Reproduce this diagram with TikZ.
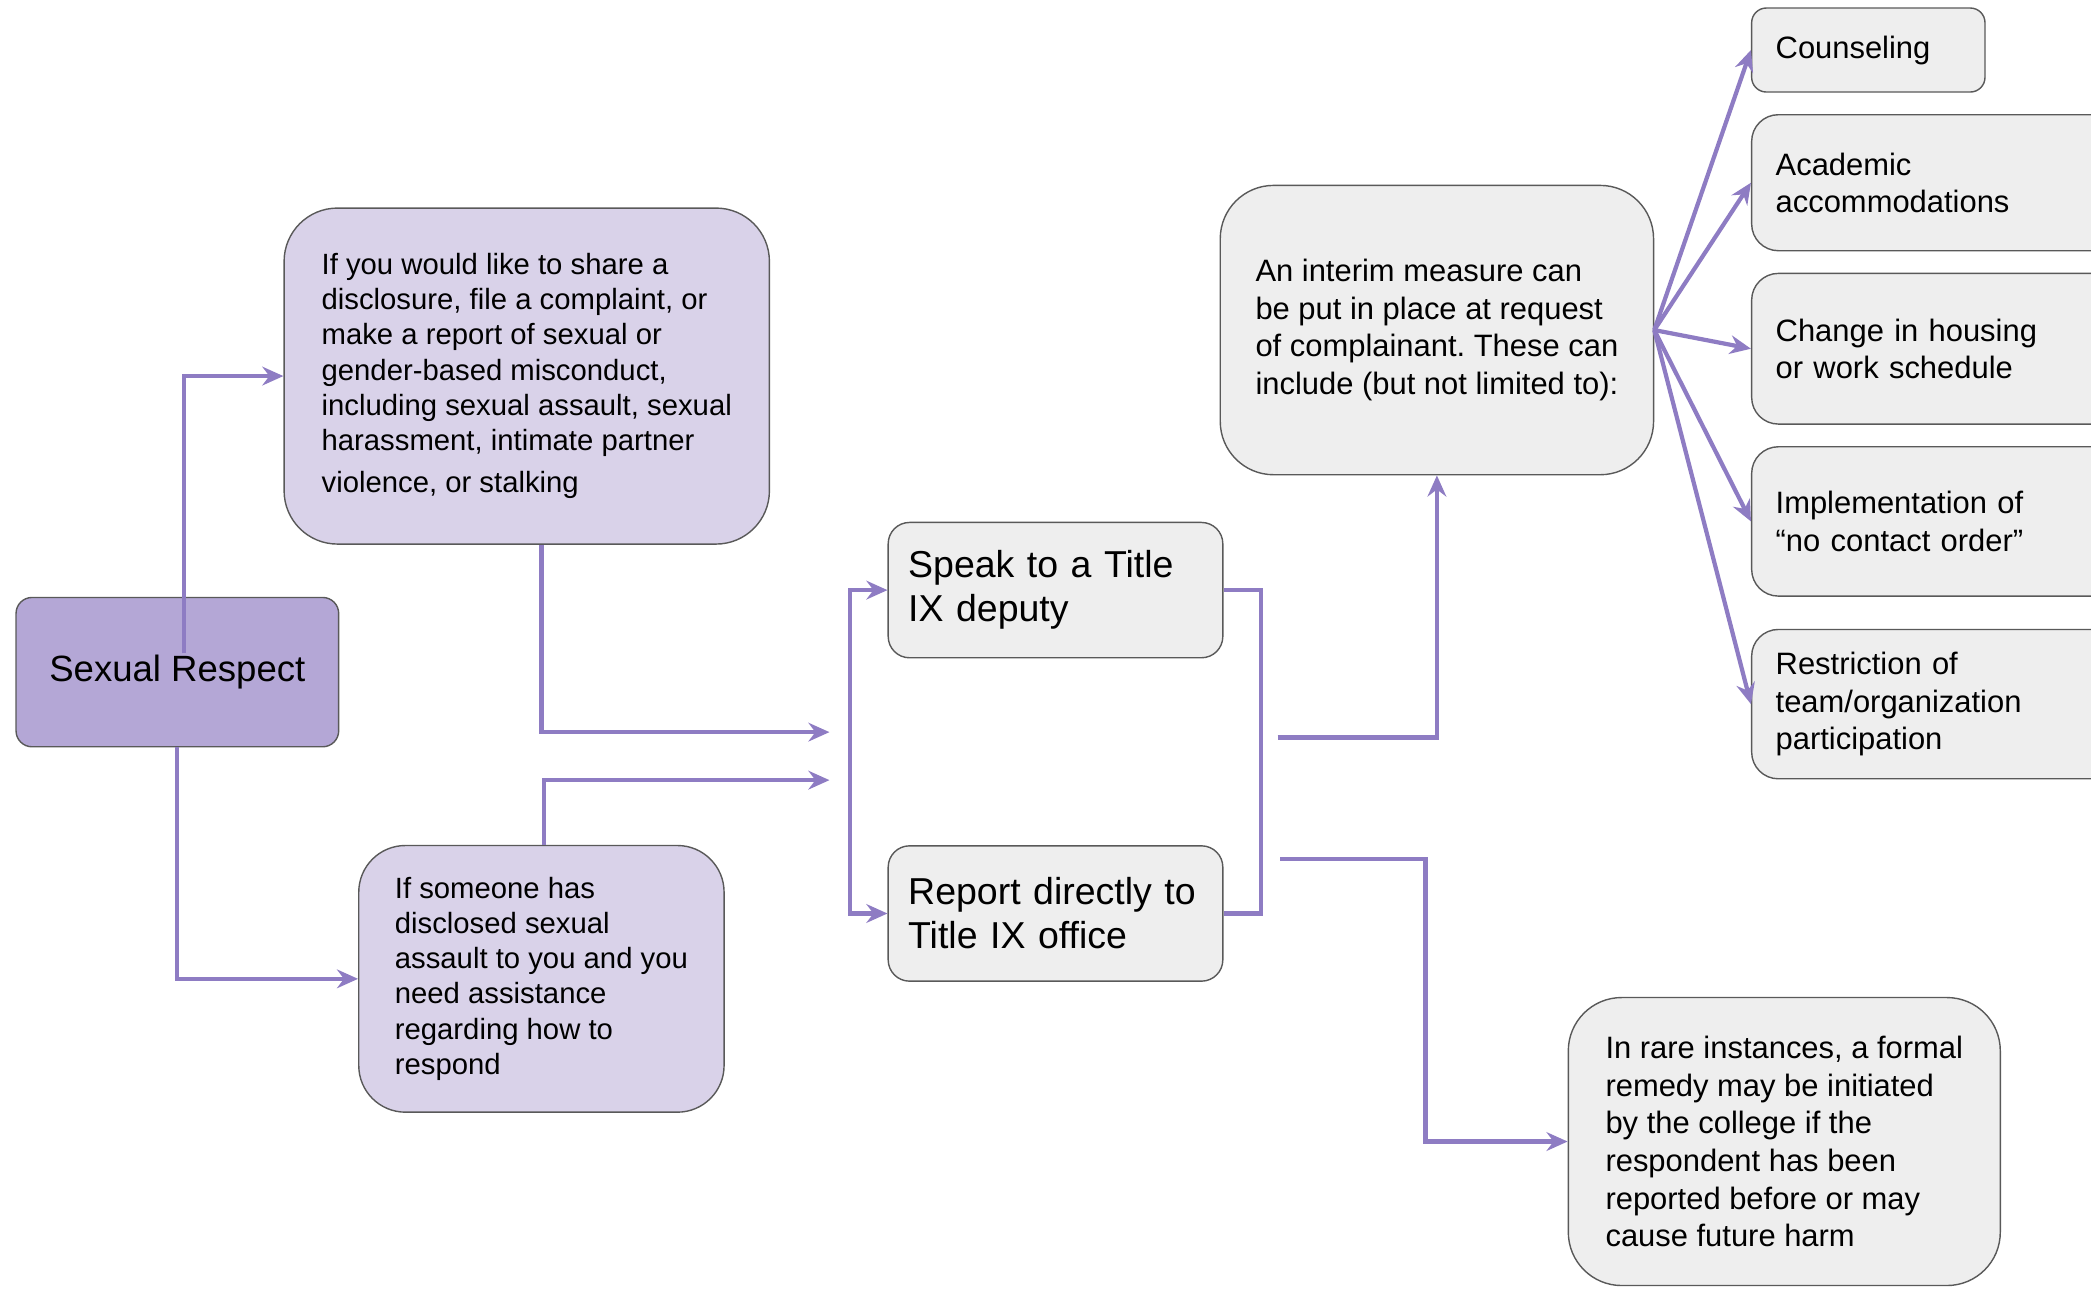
\documentclass[tikz,border=0pt]{standalone}
\usepackage{fontspec}
\setmainfont{Liberation Sans}
\usepackage{tikz}
\usepackage{xcolor}
\usetikzlibrary{arrows.meta, positioning, calc}
\frenchspacing

\definecolor{flowpurple}{HTML}{8E7CC3}
\definecolor{rootpurple}{HTML}{B4A7D6}
\definecolor{palepurple}{HTML}{D9D2E9}
\definecolor{palegray}{HTML}{EEEEEE}
\definecolor{edgegray}{HTML}{595959}

\begin{document}
\begin{tikzpicture}[x=0.02cm, y=-0.02cm,
  box/.style={draw=edgegray, line width=0.6pt, align=left, inner sep=0pt},
  choice/.style={box, fill=palegray, minimum width=5.72cm, anchor=west, rounded corners=0.4cm,
    text width=5cm, inner xsep=0.36cm, font=\fontsize{13.2}{15.9}\selectfont},
  route/.style={box, fill=palegray, rounded corners=0.32cm, text width=4.42cm, inner xsep=0.3cm,
    minimum height=2.03cm, font=\fontsize{16}{18.8}\selectfont},
  flow/.style={draw=flowpurple, line width=1.8pt},
  tip/.style={-{Stealth[length=9pt, width=8pt, inset=3pt]}}]
\useasboundingbox (0,0) rectangle (1568,968);
% Reporting options for sexual respect
\node[box, fill=rootpurple, rounded corners=0.24cm, minimum width=4.84cm, minimum height=2.24cm,
  align=center, font=\fontsize{15.6}{19}\selectfont] (sr) at (133,504) {Sexual Respect};

\node[box, fill=palepurple, rounded corners=0.8cm, minimum width=7.28cm, minimum height=5.04cm,
  font=\fontsize{12.5}{15}\selectfont] (share) at (395,282)
  {If you would like to share a\\ disclosure, file a complaint, or\\ make a report of sexual or\\
   gender-based misconduct,\\ including sexual assault, sexual\\ harassment, intimate partner\\[3pt]
   violence, or stalking};
\node[box, fill=palepurple, rounded corners=0.7cm, minimum width=5.48cm, minimum height=4cm,
  font=\fontsize{12.5}{15}\selectfont] (assist) at (406,734)
  {If someone has\\ disclosed sexual\\ assault to you and you\\ need assistance\\ regarding how to\\ respond};

\node[route] (speak) at (791.5,442.5) {Speak to a Title\\ IX deputy};
\node[route] (report) at (791.5,685) {Report directly to\\ Title IX office};

\node[box, fill=palegray, rounded corners=0.8cm, minimum width=6.5cm, minimum height=4.34cm,
  font=\fontsize{13.2}{16.1}\selectfont] (interim) at (1077.5,247.5)
  {An interim measure can\\ be put in place at request\\ of complainant. These can\\ include (but not limited to):};
\node[box, fill=palegray, rounded corners=0.8cm, minimum width=6.48cm, minimum height=4.32cm,
  font=\fontsize{13.2}{16.1}\selectfont] (remedy) at (1338,856)
  {In rare instances, a formal\\ remedy may be initiated\\ by the college if the\\ respondent has been\\
   reported before or may\\ cause future harm};

\node[choice, minimum width=3.5cm, text width=2.78cm, minimum height=1.26cm, rounded corners=0.22cm]
  (couns) at (1313,37.5) {Counseling};
\node[choice, minimum height=2.04cm] (acad) at (1313,137) {Academic\\ accommodations};
\node[choice, minimum height=2.26cm] (housing) at (1313,261.5) {Change in housing\\ or work schedule};
\node[choice, minimum height=2.24cm] (contact) at (1313,391) {Implementation of\\ ``no contact order''};
\node[choice, minimum height=2.24cm] (restrict) at (1313,528) {Restriction of\\ team/organization\\ participation};

\coordinate (srin) at (138,490);
\coordinate (inA) at (622,549);
\coordinate (inB) at (622,585);
\coordinate (outA) at (958,553);
\coordinate (outB) at (960,644);
\coordinate (bendB) at (1069,644);

\draw[flow, tip] (srin) |- (share.west);
\draw[flow, tip] (sr.south) |- (assist.west);
\draw[flow, tip] ([xshift=0.22cm]share.south) |- (inA);
\draw[flow, tip] ([xshift=0.04cm]assist.north) |- (inB);

\draw[flow, {Stealth[length=9pt, width=8pt, inset=3pt]}-{Stealth[length=9pt, width=8pt, inset=3pt]}]
  (speak.west) -- ++(-28,0) |- (report.west);
\draw[flow] (speak.east) -- ++(28,0) |- (report.east);

\draw[flow, tip] (outA) -| (interim.south);
\draw[flow, tip] (outB) -- (bendB) |- (remedy.west);

\foreach \n in {couns, acad, housing, contact, restrict}
  \draw[flow, tip] (interim.east) -- (\n.west);
\end{tikzpicture}
\end{document}
